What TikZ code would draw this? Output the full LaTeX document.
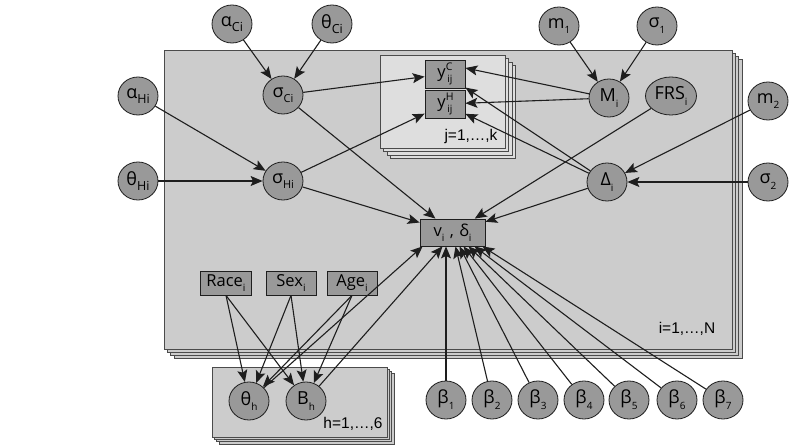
\documentclass[tikz,border=0pt]{standalone}
\usepackage{fontspec}
\setmainfont{Open Sans}
\newfontfamily\platefont{Liberation Sans}
\usetikzlibrary{shapes.geometric,arrows.meta}

\definecolor{nodegray}{RGB}{153,153,153}
\definecolor{plategray}{RGB}{204,204,204}
\definecolor{innergray}{RGB}{222,222,222}
\definecolor{linegray}{RGB}{30,30,30}

% subscripts and superscripts built from text so they stay in the main font
\newcommand{\lw}[1]{\raisebox{-0.6ex}{\fontsize{10}{10}\selectfont #1}}
\newcommand{\lwm}[1]{\raisebox{-0.5ex}{\fontsize{11}{11}\selectfont #1}}
\newcommand{\lwb}[1]{\raisebox{-0.45ex}{\fontsize{12.5}{12.5}\selectfont #1}}
\newcommand{\upr}[1]{\raisebox{0.85ex}{\fontsize{10.5}{10.5}\selectfont #1}}

\tikzset{
  var/.style={ellipse, draw=linegray, fill=nodegray, line width=0.8pt,
    minimum width=40pt, minimum height=38pt, inner sep=0pt,
    font=\fontsize{18}{18}\selectfont},
  obs/.style={rectangle, draw=linegray, fill=nodegray, line width=0.8pt,
    minimum width=50pt, minimum height=24pt, inner sep=0pt,
    font=\fontsize{16.5}{16.5}\selectfont},
  plate/.style={fill=plategray, draw=linegray!80, line width=0.8pt},
  innerplate/.style={fill=innergray, draw=linegray!80, line width=0.8pt},
  platelabel/.style={font=\platefont\fontsize{15.5}{15.5}\selectfont, inner sep=0pt},
  edge/.style={draw=linegray, line width=1.1pt,
    -{Stealth[length=12pt,width=10pt,inset=2.5pt]}},
}

\begin{document}
\begin{tikzpicture}[x=1pt,y=-1pt]
  \fill[white] (0,0) rectangle (793,446);
  \useasboundingbox (0,0) rectangle (793,446);

  % plate over i, with its stacked copies
  \foreach \d in {9.9,6.6,3.3}
    \draw[plate] ({164+\d},{50+\d}) rectangle ({732+\d},{349+\d});
  \draw[plate] (164,50) rectangle (732,349);
  \node[platelabel] (ilab) at (687,329) {i=1,…,N};

  % plate over j
  \foreach \d in {10.5,7,3.5}
    \draw[innerplate] ({380+\d},{55+\d}) rectangle ({505+\d},{148+\d});
  \draw[innerplate] (380,55) rectangle (505,148);
  \node[platelabel] (jlab) at (471,136) {j=1,…,k};

  % plate over h
  \foreach \d in {6.9,4.6,2.3}
    \draw[plate] ({212+\d},{367+\d}) rectangle ({387+\d},{437+\d});
  \draw[plate] (212,367) rectangle (387,437);
  \node[platelabel] (hlab) at (353,424) {h=1,…,6};

  % hyperparameters and latent variables
  \node[var] (aC) at (232,24) {α\lwb{Ci}};
  \node[var] (tC) at (332,24) {θ\lwb{Ci}};
  \node[var] (sC) at (283,95) {σ\lwm{Ci}};
  \node[var] (aH) at (138,96) {α\lwb{Hi}};
  \node[var] (tH) at (138,181) {θ\lwb{Hi}};
  \node[var] (sH) at (283,181) {σ\lwm{Hi}};

  \node[var] (m1) at (559,26) {m\lw{1}};
  \node[var] (s1) at (657,26) {σ\lw{1}};
  \node[var] (M)  at (609,98) {M\lw{i}};
  \node[var, minimum width=51pt] (FRS) at (671,96) {FRS\lw{i}};
  \node[var] (m2) at (768,101) {m\lw{2}};
  \node[var] (D)  at (607,182) {Δ\lw{i}};
  \node[var] (s2) at (768,182) {σ\lw{2}};

  % observed quantities
  \node[obs, minimum width=40pt, minimum height=28pt] (yC) at (445,74)
    {y\rlap{\upr{C}}\lw{\,ij}};
  \node[obs, minimum width=40pt, minimum height=28pt] (yH) at (445,104)
    {y\rlap{\upr{H}}\lw{\,ij}};
  \node[obs, minimum width=65pt, minimum height=27pt] (v) at (452.5,232.5)
    {v\lw{i}\,\,,\,\,δ\lw{i}};

  \node[obs, minimum width=51pt] (race) at (226,283) {Race\lw{i}};
  \node[obs] (sex) at (291,283) {Sex\lw{i}};
  \node[obs] (age) at (352,283) {Age\lw{i}};

  \node[var] (th) at (249,401) {θ\lw{h}};
  \node[var] (Bh) at (306,401) {B\lw{h}};

  % regression coefficients
  \node[var] (b1) at (446,400) {β\lw{1}};
  \node[var] (b2) at (492,400) {β\lw{2}};
  \node[var] (b3) at (538,400) {β\lw{3}};
  \node[var] (b4) at (584,400) {β\lw{4}};
  \node[var] (b5) at (629,400) {β\lw{5}};
  \node[var] (b6) at (677,400) {β\lw{6}};
  \node[var] (b7) at (723,400) {β\lw{7}};

  % dependencies
  \draw[edge] (aC) -- (sC);
  \draw[edge] (tC) -- (sC);
  \draw[edge] (aH) -- (sH);
  \draw[edge] (tH) -- (sH);
  \draw[edge] (sC) -- (yC);
  \draw[edge] (sH) -- (yH);
  \draw[edge] (sC) -- (v);
  \draw[edge] (sH) -- (v);

  \draw[edge] (m1) -- (M);
  \draw[edge] (s1) -- (M);
  \draw[edge] (M) -- ([yshift=6pt]yC.east);
  \draw[edge] (M) -- (yH);
  \draw[edge] (D) -- (yC);
  \draw[edge] (D) -- (yH);
  \draw[edge] (m2) -- (D);
  \draw[edge] (s2) -- (D);
  \draw[edge] (FRS) -- (v);
  \draw[edge] (D) -- (v);

  \draw[edge] (race.south) -- (th);
  \draw[edge] (race.south) -- (Bh);
  \draw[edge] (sex.south) -- (th);
  \draw[edge] (sex.south) -- (Bh);
  \draw[edge] (age.south) -- (th);
  \draw[edge] (age.south) -- (Bh);
  \draw[edge] (th) -- ([xshift=3pt]v.south west);
  \draw[edge] (Bh) -- ([xshift=-10pt]v.south);

  \draw[edge] (b1) -- ([xshift=-6.5pt]v.south);
  \draw[edge] (b2) -- ([xshift=3pt]v.south);
  \draw[edge] (b3) -- ([xshift=7pt]v.south);
  \draw[edge] (b4) -- ([xshift=11pt]v.south);
  \draw[edge] (b5) -- ([xshift=16pt]v.south);
  \draw[edge] (b6) -- ([xshift=22pt]v.south);
  \draw[edge] (b7) -- ([xshift=30pt]v.south);
\end{tikzpicture}
\end{document}
